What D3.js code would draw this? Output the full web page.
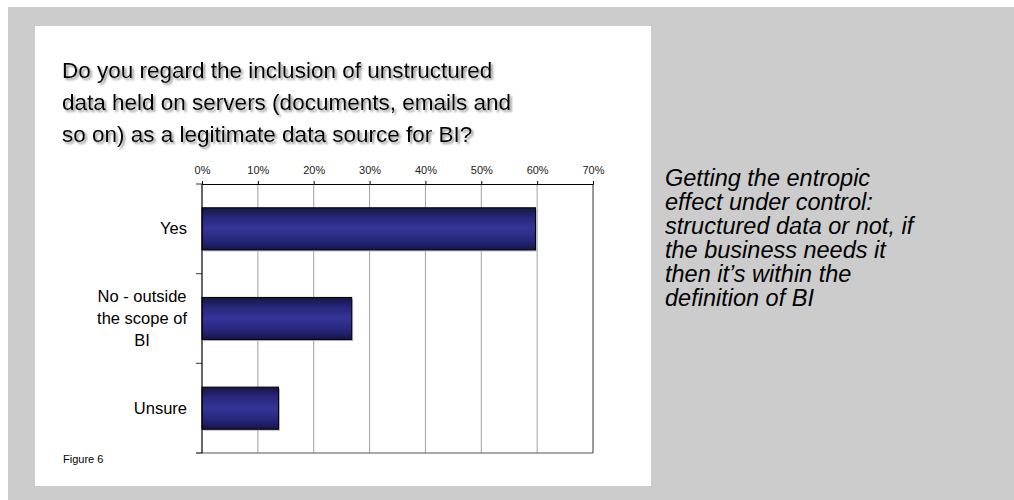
<!DOCTYPE html>
<html>
<head>
<meta charset="utf-8" />
<title>Figure 6</title>
<style>
  body { margin: 0; background: #fff; }
  svg { display: block; font-family: Arial, "Liberation Sans", sans-serif; }
</style>
<script src="https://cdn.jsdelivr.net/npm/d3@7"></script>
</head>
<body>
<svg width="1014" height="500"></svg>
<script>
// chart data
var categories = ["Yes", "No - outside the scope of BI", "Unsure"];
var labelLines = [["Yes"], ["No - outside", "the scope of", "BI"], ["Unsure"]];
var values = [59.7, 26.8, 13.7];
var tickValues = [0, 10, 20, 30, 40, 50, 60, 70];
var titleLines = [
  "Do you regard the inclusion of unstructured",
  "data held on servers (documents, emails and",
  "so on) as a legitimate data source for BI?"
];
var noteLines = [
  "Getting the entropic",
  "effect under control:",
  "structured data or not, if",
  "the business needs it",
  "then it\u2019s within the",
  "definition of BI"
];
var figureLabel = "Figure 6";

var svg = d3.select("svg");

// page background: grey slide with white panel
svg.append("rect").attr("x", 8).attr("y", 7).attr("width", 1006).attr("height", 493).attr("fill", "#cccccc");
svg.append("rect").attr("x", 35).attr("y", 26).attr("width", 616).attr("height", 460).attr("fill", "#ffffff");

var defs = svg.append("defs");
var shadow = defs.append("filter").attr("id", "tshadow").attr("x", "-5%").attr("y", "-20%").attr("width", "110%").attr("height", "150%");
shadow.append("feDropShadow").attr("dx", 2).attr("dy", 2).attr("stdDeviation", 0.9)
  .attr("flood-color", "#777").attr("flood-opacity", 0.8);

var grad = defs.append("linearGradient").attr("id", "barfill").attr("x1", 0).attr("y1", 0).attr("x2", 0).attr("y2", 1);
grad.append("stop").attr("offset", "0%").attr("stop-color", "#151545");
grad.append("stop").attr("offset", "22%").attr("stop-color", "#26267a");
grad.append("stop").attr("offset", "50%").attr("stop-color", "#353599");
grad.append("stop").attr("offset", "78%").attr("stop-color", "#26267a");
grad.append("stop").attr("offset", "100%").attr("stop-color", "#151545");

// title
svg.append("g").attr("filter", "url(#tshadow)")
  .selectAll("text").data(titleLines).enter().append("text")
  .attr("x", 62)
  .attr("y", function(d, i) { return 78 + i * 32; })
  .style("font-size", "22.5px")
  .attr("fill", "#000")
  .text(function(d) { return d; });

// scales
var x = d3.scaleLinear().domain([0, 70]).range([202, 593]);
var y = d3.scaleBand().domain(categories).range([184, 453]);
var barH = y.bandwidth() * 0.47;
var barOff = (y.bandwidth() - barH) / 2;

// gridlines
svg.append("g").selectAll("line").data(tickValues.slice(1, -1)).enter().append("line")
  .attr("x1", function(d) { return x(d); }).attr("x2", function(d) { return x(d); })
  .attr("y1", 184).attr("y2", 453)
  .attr("stroke", "#a0a0a0").attr("stroke-width", 1);

// plot frame right/bottom
svg.append("line").attr("x1", x(70)).attr("x2", x(70)).attr("y1", 184).attr("y2", 453)
  .attr("stroke", "#555").attr("stroke-width", 1.2);
svg.append("line").attr("x1", 196).attr("x2", x(70)).attr("y1", 453).attr("y2", 453)
  .attr("stroke", "#555").attr("stroke-width", 1.2);

// top axis
var xAxis = svg.append("g").attr("transform", "translate(0,184)")
  .call(d3.axisTop(x).tickValues(tickValues).tickSize(3).tickFormat(function(d) { return d + "%"; }));
xAxis.select(".domain").attr("stroke", "#000");
xAxis.selectAll(".tick line").attr("stroke", "#000");
xAxis.selectAll(".tick text").attr("y", -10).style("font-size", "11px").style("font-family", "Arial, 'Liberation Sans', sans-serif").attr("fill", "#222");

// left axis: category separators
var sepVals = [184].concat(categories.map(function(c) { return y(c) + y.step(); }));
svg.append("g").selectAll("line").data(sepVals).enter().append("line")
  .attr("x1", 196).attr("x2", 202)
  .attr("y1", function(d) { return d; }).attr("y2", function(d) { return d; })
  .attr("stroke", "#555").attr("stroke-width", 1.2);

// bars with a soft shadow
var bars = svg.append("g").selectAll("g").data(categories).enter().append("g");
bars.append("rect")
  .attr("x", x(0) + 1.5)
  .attr("y", function(d) { return y(d) + barOff + 1.5; })
  .attr("width", function(d, i) { return x(values[i]) - x(0); })
  .attr("height", barH)
  .attr("fill", "#bbb");
bars.append("rect")
  .attr("x", x(0))
  .attr("y", function(d) { return y(d) + barOff; })
  .attr("width", function(d, i) { return x(values[i]) - x(0); })
  .attr("height", barH)
  .attr("fill", "url(#barfill)")
  .attr("stroke", "#000").attr("stroke-width", 1);

svg.append("line").attr("x1", 202).attr("x2", 202).attr("y1", 184).attr("y2", 453)
  .attr("stroke", "#000").attr("stroke-width", 1.2);

// category labels: block right-aligned at axis, lines centred in the block
var labelRight = 187, lineH = 22;
categories.forEach(function(c, i) {
  var lines = labelLines[i];
  var g = svg.append("g");
  var t = g.selectAll("text").data(lines).enter().append("text")
    .style("font-size", "16.5px").attr("fill", "#000")
    .attr("text-anchor", "middle")
    .text(function(d) { return d; });
  var w = 0;
  t.each(function() { w = Math.max(w, this.getComputedTextLength()); });
  var cy = y(c) + y.bandwidth() / 2;
  t.attr("x", labelRight - w / 2)
    .attr("y", function(d, j) { return cy + (j - (lines.length - 1) / 2) * lineH + 5.5; });
});

// figure label
svg.append("text").attr("x", 63).attr("y", 463).style("font-size", "11px").attr("fill", "#000").text(figureLabel);

// side note
svg.append("g").selectAll("text").data(noteLines).enter().append("text")
  .attr("x", 665)
  .attr("y", function(d, i) { return 186 + i * 24; })
  .style("font-size", "23.5px").style("font-style", "italic")
  .attr("fill", "#000")
  .text(function(d) { return d; });
</script>
</body>
</html>
